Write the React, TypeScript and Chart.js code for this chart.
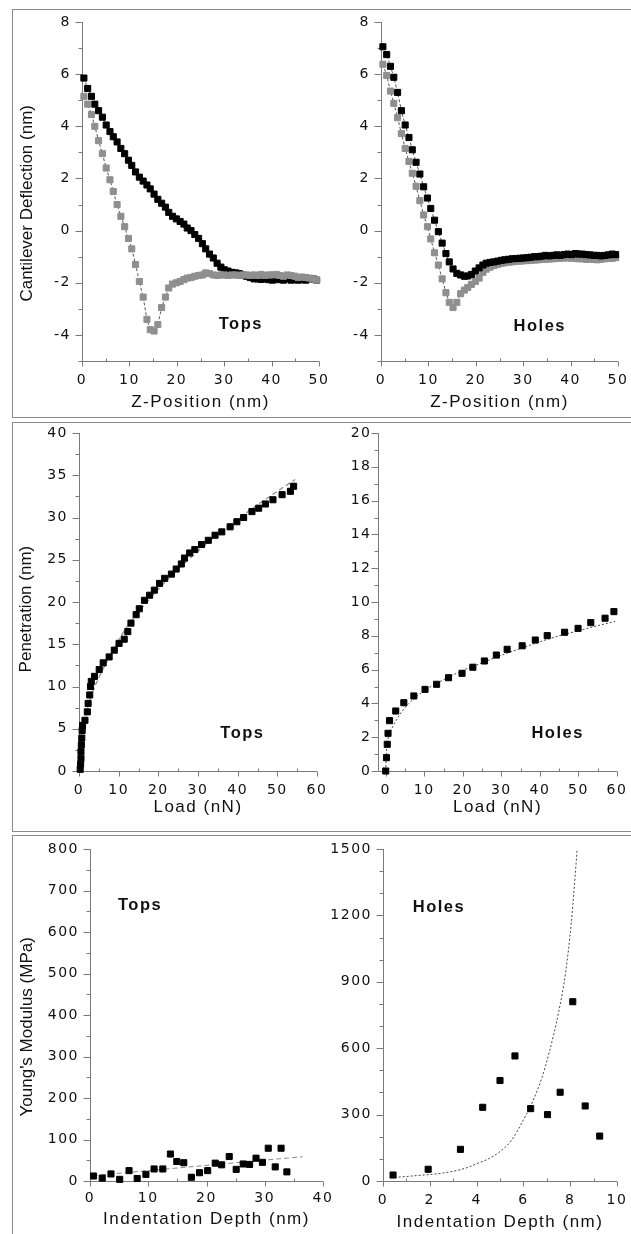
import React, { useEffect, useRef } from "react";
import { Chart, registerables } from "chart.js";
Chart.register(...registerables);

// ---------- Row 1: cantilever deflection vs Z-position ----------
const zPos = [0.4, 1.2, 2.0, 2.7, 3.5, 4.3, 5.1, 5.9, 6.6, 7.4, 8.2, 9.0, 9.8, 10.5, 11.3, 12.1, 12.9, 13.7, 14.4, 15.2, 16.0, 16.8, 17.6, 18.3, 19.1, 19.9, 20.7, 21.5, 22.2, 23.0, 23.8, 24.6, 25.4, 26.1, 26.9, 27.7, 28.5, 29.3, 30.0, 30.8, 31.6, 32.4, 33.2, 33.9, 34.7, 35.5, 36.3, 37.1, 37.8, 38.6, 39.4, 40.2, 41.0, 41.7, 42.5, 43.3, 44.1, 44.9, 45.6, 46.4, 47.2, 48.0, 48.8, 49.5];
const topsApproach = [5.85, 5.45, 5.15, 4.85, 4.6, 4.35, 4.05, 3.8, 3.6, 3.4, 3.15, 2.95, 2.7, 2.5, 2.25, 2.05, 1.9, 1.75, 1.6, 1.4, 1.2, 1.05, 0.9, 0.7, 0.55, 0.45, 0.35, 0.25, 0.1, 0.0, -0.15, -0.3, -0.5, -0.7, -0.9, -1.05, -1.25, -1.4, -1.5, -1.55, -1.6, -1.62, -1.65, -1.7, -1.75, -1.8, -1.85, -1.85, -1.87, -1.85, -1.88, -1.9, -1.85, -1.88, -1.9, -1.85, -1.9, -1.88, -1.9, -1.88, -1.9, -1.85, -1.85, -1.9];
const topsRetract = [5.15, 4.85, 4.45, 4.0, 3.45, 2.95, 2.4, 1.95, 1.5, 1.0, 0.55, 0.15, -0.3, -0.7, -1.3, -1.95, -2.55, -3.4, -3.8, -3.85, -3.6, -2.95, -2.55, -2.2, -2.05, -2.0, -1.95, -1.88, -1.82, -1.8, -1.75, -1.72, -1.7, -1.62, -1.65, -1.7, -1.72, -1.7, -1.7, -1.72, -1.7, -1.7, -1.72, -1.7, -1.7, -1.72, -1.7, -1.72, -1.68, -1.72, -1.7, -1.7, -1.68, -1.72, -1.75, -1.7, -1.72, -1.75, -1.8, -1.78, -1.8, -1.82, -1.85, -1.9];
const holesApproach = [7.05, 6.75, 6.3, 5.88, 5.3, 4.6, 4.05, 3.57, 3.1, 2.62, 2.17, 1.68, 1.25, 0.85, 0.4, -0.04, -0.48, -0.88, -1.2, -1.47, -1.64, -1.7, -1.75, -1.74, -1.68, -1.55, -1.43, -1.32, -1.25, -1.22, -1.2, -1.17, -1.14, -1.12, -1.1, -1.08, -1.07, -1.06, -1.05, -1.04, -1.02, -1.0, -1.0, -0.98, -0.95, -0.97, -0.95, -0.93, -0.95, -0.92, -0.9, -0.92, -0.88, -0.9, -0.9, -0.92, -0.93, -0.95, -0.95, -0.97, -0.95, -0.93, -0.9, -0.92];
const holesRetract = [6.38, 5.95, 5.35, 4.88, 4.33, 3.72, 3.15, 2.65, 2.2, 1.7, 1.15, 0.6, 0.15, -0.32, -0.85, -1.32, -1.85, -2.38, -2.75, -2.95, -2.75, -2.42, -2.28, -2.18, -2.06, -1.95, -1.82, -1.6, -1.48, -1.4, -1.34, -1.3, -1.26, -1.23, -1.21, -1.2, -1.18, -1.17, -1.16, -1.15, -1.14, -1.13, -1.12, -1.1, -1.1, -1.09, -1.08, -1.07, -1.06, -1.05, -1.05, -1.06, -1.07, -1.08, -1.08, -1.1, -1.1, -1.1, -1.12, -1.1, -1.08, -1.07, -1.06, -1.04];

// ---------- Row 2: penetration vs load ----------
const topsLoad = [0.3, 0.4, 0.5, 0.5, 0.6, 0.7, 0.8, 0.9, 1.5, 2.1, 2.3, 2.7, 2.9, 3.1, 3.9, 5.1, 6.1, 7.6, 8.9, 10.1, 11.4, 12.3, 13.1, 14.4, 15.2, 16.5, 17.8, 19.0, 20.3, 21.6, 23.3, 24.5, 25.8, 26.6, 27.9, 29.2, 30.9, 32.6, 34.3, 36.0, 38.1, 39.8, 41.5, 43.6, 45.3, 47.0, 48.9, 51.2, 53.3, 54.1];
const topsPen = [0.2, 0.8, 1.5, 2.3, 3.1, 3.9, 4.8, 5.4, 6.0, 7.0, 8.0, 9.0, 10.0, 10.6, 11.2, 12.0, 12.8, 13.5, 14.3, 15.1, 15.6, 16.5, 17.5, 18.5, 19.2, 20.2, 20.8, 21.4, 22.2, 22.8, 23.3, 23.9, 24.5, 25.2, 25.8, 26.2, 26.8, 27.3, 27.9, 28.3, 28.9, 29.5, 30.0, 30.7, 31.1, 31.6, 32.1, 32.7, 33.1, 33.7];
const topsFitLoad = [0, 0.5, 1, 2, 4, 6, 8, 10, 12, 15, 20, 25, 30, 35, 40, 45, 50, 54.5];
const topsFitPen = [0, 3.8, 5.3, 7.3, 10.0, 12.0, 13.8, 15.5, 17.0, 18.8, 21.5, 23.9, 26.0, 28.0, 29.8, 31.5, 33.1, 34.5];
const holesLoad = [0, 0.2, 0.4, 0.6, 1.0, 2.6, 4.7, 7.3, 10.2, 13.2, 16.3, 19.8, 22.6, 25.6, 28.7, 31.5, 35.4, 38.8, 41.9, 46.4, 49.9, 53.2, 56.9, 59.2];
const holesPen = [0, 0.79, 1.58, 2.23, 2.98, 3.55, 4.04, 4.44, 4.83, 5.13, 5.52, 5.78, 6.14, 6.51, 6.86, 7.2, 7.41, 7.75, 8.01, 8.21, 8.44, 8.78, 9.04, 9.43];
const holesFitLoad = [0, 0.1, 0.3, 0.6, 1, 2, 4, 6, 8, 10, 15, 20, 25, 30, 35, 40, 45, 50, 55, 59.5];
const holesFitPen = [0, 0.8, 1.4, 1.9, 2.2, 2.7, 3.45, 4.0, 4.4, 4.75, 5.4, 5.95, 6.4, 6.85, 7.25, 7.65, 8.0, 8.3, 8.6, 8.85];

// ---------- Row 3: Young's modulus vs indentation depth ----------
const topsDepth = [0.6, 2.1, 3.6, 5.1, 6.7, 8.1, 9.6, 11.0, 12.5, 13.8, 14.9, 16.1, 17.4, 18.8, 20.2, 21.5, 22.6, 23.9, 25.1, 26.3, 27.4, 28.5, 29.6, 30.6, 31.8, 32.8, 33.8];
const topsModulus = [12, 7, 17, 4, 25, 6, 16, 29, 29, 65, 47, 44, 9, 20, 25, 43, 39, 59, 28, 41, 40, 55, 45, 79, 34, 79, 22];
const topsModFitDepth = [0.5, 36.5];
const topsModFitVal = [13, 58.5];
const holesDepth = [0.43, 1.93, 3.31, 4.26, 5.0, 5.64, 6.31, 7.03, 7.57, 8.11, 8.64, 9.26];
const holesModulus = [27, 53, 143, 333, 454, 565, 327, 300, 401, 810, 339, 203];
const holesModFitDepth = [0.5, 1.5, 2.5, 3.5, 4.0, 4.5, 5.0, 5.5, 6.0, 6.4, 6.8, 7.1, 7.5, 7.8, 8.05, 8.3];
const holesModFitVal = [16, 25, 35, 57, 78, 100, 133, 185, 276, 360, 470, 580, 760, 940, 1170, 1500];

// ---------- Tick values ----------
const deflTicks = [-4, -2, 0, 2, 4, 6, 8];
const deflMinor = [-5, -3, -1, 1, 3, 5, 7];
const zTicks = [0, 10, 20, 30, 40, 50];
const zMinor = [5, 15, 25, 35, 45];
const penTopsTicks = [0, 5, 10, 15, 20, 25, 30, 35, 40];
const penTopsMinor = [2.5, 7.5, 12.5, 17.5, 22.5, 27.5, 32.5, 37.5];
const penHolesTicks = [0, 2, 4, 6, 8, 10, 12, 14, 16, 18, 20];
const penHolesMinor = [1, 3, 5, 7, 9, 11, 13, 15, 17, 19];
const loadTicks = [0, 10, 20, 30, 40, 50, 60];
const loadMinor = [5, 15, 25, 35, 45, 55];
const modTopsTicks = [0, 100, 200, 300, 400, 500, 600, 700, 800];
const modTopsMinor = [50, 150, 250, 350, 450, 550, 650, 750];
const depthTopsTicks = [0, 10, 20, 30, 40];
const depthTopsMinor = [5, 15, 25, 35];
const modHolesTicks = [0, 300, 600, 900, 1200, 1500];
const modHolesMinor = [100, 200, 400, 500, 700, 800, 1000, 1100, 1300, 1400];
const depthHolesTicks = [0, 2, 4, 6, 8, 10];
const depthHolesMinor = [1, 3, 5, 7, 9];

const BLACK = "#000000";
const GREY = "#8f8f8f";

const pts = (xs: number[], ys: number[]) => xs.map((x, i) => ({ x, y: ys[i] }));

function markers(xs: number[], ys: number[], color: string, linked: boolean) {
  return {
    data: pts(xs, ys),
    showLine: linked,
    borderColor: "#2a2a2a",
    borderWidth: linked ? 0.8 : 0,
    borderDash: [3, 2],
    pointStyle: "rect",
    pointRadius: 4.3,
    pointBackgroundColor: color,
    pointBorderColor: color,
    pointBorderWidth: 1,
    clip: false,
  };
}

function fit(xs: number[], ys: number[], color: string, dash: number[], width: number) {
  return {
    data: pts(xs, ys),
    showLine: true,
    borderColor: color,
    borderWidth: width,
    borderDash: dash,
    pointRadius: 0,
    cubicInterpolationMode: "monotone",
    clip: false,
  };
}

type Panel = {
  key: string;
  area: [number, number, number, number];
  yW: number;
  xH: number;
  xRange: [number, number];
  yRange: [number, number];
  xTicks: number[];
  xMinor: number[];
  yTicks: number[];
  yMinor: number[];
  xTitle: string;
  yTitle?: string;
  xLabelPad: number;
  yLabelPad: number;
  datasets: any[];
  label: { text: string; x: number; y: number };
};

const panels: Panel[] = [
  {
    key: "a", area: [82, 22, 319, 361], yW: 65, xH: 52, xRange: [0, 50], yRange: [-5, 8],
    xTicks: zTicks, xMinor: zMinor, yTicks: deflTicks, yMinor: deflMinor,
    xTitle: "Z-Position (nm)", yTitle: "Cantilever Deflection (nm)     ",
    xLabelPad: 10.5, yLabelPad: 11,
    datasets: [markers(zPos, topsRetract, GREY, true), markers(zPos, topsApproach, BLACK, true)],
    label: { text: "Tops", x: 33.5, y: -3.6 },
  },
  {
    key: "b", area: [381, 22, 618, 361], yW: 45, xH: 52, xRange: [0, 50], yRange: [-5, 8],
    xTicks: zTicks, xMinor: zMinor, yTicks: deflTicks, yMinor: deflMinor,
    xTitle: "Z-Position (nm)", xLabelPad: 10.5, yLabelPad: 11,
    datasets: [markers(zPos, holesApproach, BLACK, true), markers(zPos, holesRetract, GREY, true)],
    label: { text: "Holes", x: 33.5, y: -3.68 },
  },
  {
    key: "c", area: [79, 433, 317, 771], yW: 63, xH: 47, xRange: [0, 60], yRange: [0, 40],
    xTicks: loadTicks, xMinor: loadMinor, yTicks: penTopsTicks, yMinor: penTopsMinor,
    xTitle: "Load (nN)", yTitle: "Penetration (nm)   ",
    xLabelPad: 10.5, yLabelPad: 11,
    datasets: [markers(topsLoad, topsPen, BLACK, false), fit(topsFitLoad, topsFitPen, "#8a8a8a", [5, 3], 1.2)],
    label: { text: "Tops", x: 41.2, y: 4.5 },
  },
  {
    key: "d", area: [378, 433, 617, 771], yW: 45, xH: 47, xRange: [-2, 60], yRange: [0, 20],
    xTicks: loadTicks, xMinor: loadMinor, yTicks: penHolesTicks, yMinor: penHolesMinor,
    xTitle: "Load (nN)", xLabelPad: 10.5, yLabelPad: 6.5,
    datasets: [markers(holesLoad, holesPen, BLACK, false), fit(holesFitLoad, holesFitPen, "#444444", [2, 2], 1)],
    label: { text: "Holes", x: 44.6, y: 2.2 },
  },
  {
    key: "e", area: [90, 849, 323, 1181], yW: 73, xH: 49, xRange: [0, 40], yRange: [0, 800],
    xTicks: depthTopsTicks, xMinor: depthTopsMinor, yTicks: modTopsTicks, yMinor: modTopsMinor,
    xTitle: "Indentation Depth (nm)", yTitle: "Young's Modulus (MPa)     ",
    xLabelPad: 8.6, yLabelPad: 11,
    datasets: [markers(topsDepth, topsModulus, BLACK, false), fit(topsModFitDepth, topsModFitVal, "#8a8a8a", [5, 3], 1)],
    label: { text: "Tops", x: 8.6, y: 663 },
  },
  {
    key: "f", area: [383, 849, 617, 1181], yW: 60, xH: 52, xRange: [0, 10], yRange: [0, 1500],
    xTicks: depthHolesTicks, xMinor: depthHolesMinor, yTicks: modHolesTicks, yMinor: modHolesMinor,
    xTitle: "Indentation Depth (nm)", xLabelPad: 10.5, yLabelPad: 11,
    datasets: [markers(holesDepth, holesModulus, BLACK, false), fit(holesModFitDepth, holesModFitVal, "#444444", [2, 2], 1)],
    label: { text: "Holes", x: 2.39, y: 1235 },
  },
];

const PAD = { left: 2, top: 12, right: 16, bottom: 2 };
const TEXT = "#111111";
const AXIS = "#7a7a7a";
const TICK_FONT = { family: "'DejaVu Sans'", size: 14 };
const TITLE_FONT = { family: "'Liberation Sans', Arial", size: 17 };

function PanelChart({ p }: { p: Panel }) {
  const ref = useRef<HTMLCanvasElement>(null);
  const [L, T, R, B] = p.area;
  const cLeft = L - p.yW - PAD.left;
  const cTop = T - PAD.top;
  const cW = R - cLeft + PAD.right;
  const cH = B - cTop + p.xH + PAD.bottom;

  useEffect(() => {
    const spacing = {
      id: "spacing",
      beforeDraw(chart: any) { chart.ctx.letterSpacing = "1.5px"; },
      afterDatasetsDraw(chart: any) { chart.ctx.letterSpacing = "0px"; },
      afterDraw(chart: any) { chart.ctx.letterSpacing = "0px"; },
    };
    const axisTicks = {
      id: "axisTicks",
      beforeDatasetsDraw(chart: any) {
        const { ctx, chartArea } = chart;
        const xs = chart.scales.x, ys = chart.scales.y;
        const left = Math.round(chartArea.left) + 0.5;
        const bottom = Math.round(chartArea.bottom) + 0.5;
        const right = chartArea.right, top = chartArea.top;
        ctx.save();
        ctx.strokeStyle = AXIS;
        ctx.lineWidth = 1;
        ctx.beginPath();
        ctx.moveTo(left, top); ctx.lineTo(left, bottom);
        ctx.moveTo(left, bottom); ctx.lineTo(right, bottom);
        p.xTicks.forEach((v) => {
          const px = Math.round(xs.getPixelForValue(v)) + 0.5;
          ctx.moveTo(px, bottom); ctx.lineTo(px, bottom + 5);
        });
        p.xMinor.forEach((v) => {
          const px = Math.round(xs.getPixelForValue(v)) + 0.5;
          ctx.moveTo(px, bottom); ctx.lineTo(px, bottom - 3);
        });
        p.yTicks.forEach((v) => {
          const py = Math.round(ys.getPixelForValue(v)) + 0.5;
          ctx.moveTo(left - 7, py); ctx.lineTo(left, py);
        });
        p.yMinor.forEach((v) => {
          const py = Math.round(ys.getPixelForValue(v)) + 0.5;
          ctx.moveTo(left - 4, py); ctx.lineTo(left, py);
        });
        ctx.stroke();
        ctx.restore();
      },
    };
    const panelLabel = {
      id: "panelLabel",
      afterDraw(chart: any) {
        const { ctx } = chart;
        ctx.save();
        ctx.letterSpacing = "1.5px";
        ctx.font = "bold 16.5px 'Liberation Sans', Arial";
        ctx.fillStyle = TEXT;
        ctx.textAlign = "center";
        ctx.textBaseline = "middle";
        ctx.fillText(p.label.text, chart.scales.x.getPixelForValue(p.label.x), chart.scales.y.getPixelForValue(p.label.y));
        ctx.restore();
      },
    };

    const chart = new Chart(ref.current as HTMLCanvasElement, {
      type: "scatter",
      data: { datasets: p.datasets },
      options: {
        animation: false,
        responsive: false,
        maintainAspectRatio: false,
        events: [],
        layout: { padding: PAD },
        plugins: { legend: { display: false }, tooltip: { enabled: false } },
        scales: {
          x: {
            type: "linear",
            position: "bottom",
            min: p.xRange[0],
            max: p.xRange[1],
            bounds: "data",
            afterBuildTicks: (s: any) => { s.ticks = p.xTicks.map((v) => ({ value: v })); },
            afterFit: (s: any) => { s.height = p.xH; s.paddingLeft = 0; s.paddingRight = 0; },
            grid: { display: false, drawTicks: false },
            border: { display: false },
            ticks: {
              padding: p.xLabelPad, color: TEXT, font: TICK_FONT, autoSkip: false,
              maxRotation: 0, minRotation: 0, callback: (v: any) => String(v),
            },
            title: { display: true, text: p.xTitle, color: TEXT, font: TITLE_FONT, padding: 0 },
          },
          y: {
            type: "linear",
            position: "left",
            min: p.yRange[0],
            max: p.yRange[1],
            bounds: "data",
            afterBuildTicks: (s: any) => { s.ticks = p.yTicks.map((v) => ({ value: v })); },
            afterFit: (s: any) => { s.width = p.yW; s.paddingTop = 0; s.paddingBottom = 0; },
            grid: { display: false, drawTicks: false, z: 1 },
            border: { display: false },
            ticks: {
              padding: p.yLabelPad, color: TEXT, font: TICK_FONT, autoSkip: false,
              callback: (v: any) => String(v),
            },
            title: p.yTitle
              ? { display: true, text: p.yTitle, color: TEXT, font: TITLE_FONT, padding: 0 }
              : { display: false },
          },
        },
      } as any,
      plugins: [spacing, axisTicks, panelLabel],
    } as any);
    return () => chart.destroy();
  }, []);

  return (
    <div style={{ position: "absolute", left: cLeft, top: cTop, width: cW, height: cH }}>
      <canvas ref={ref} width={cW} height={cH} style={{ width: cW, height: cH, display: "block" }} />
    </div>
  );
}

const boxes = [
  { top: 9, height: 409 },
  { top: 422, height: 410 },
  { top: 835, height: 420 },
];

export default function App() {
  return (
    <div style={{ position: "absolute", left: 0, top: 0, width: 631, height: 1234, overflow: "hidden", background: "#ffffff" }}>
      {boxes.map((b, i) => (
        <div
          key={i}
          style={{
            position: "absolute", left: 12, top: b.top, width: 700, height: b.height,
            boxSizing: "border-box", border: "1px solid #8a8a8a",
          }}
        />
      ))}
      {panels.map((p) => <PanelChart key={p.key} p={p} />)}
    </div>
  );
}
